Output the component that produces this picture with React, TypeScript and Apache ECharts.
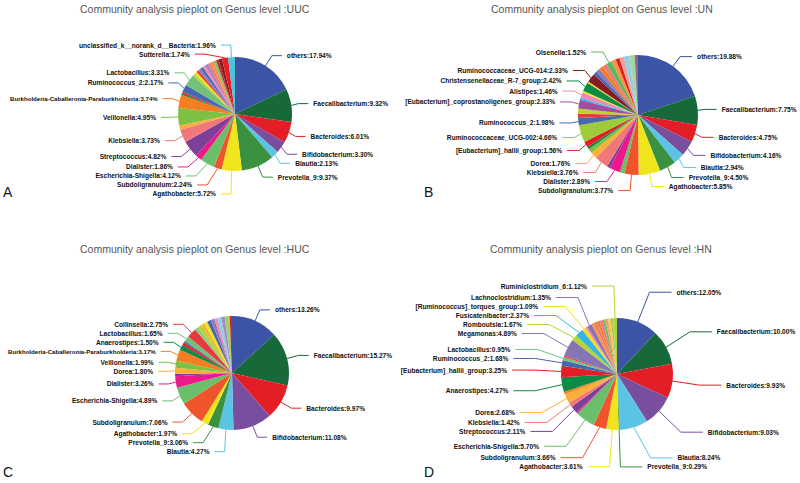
import React, { useEffect, useRef } from 'react';
import * as echarts from 'echarts';

const FONT = 'Arial, "Liberation Sans", Helvetica, sans-serif';

// palette
const BLUE = '#3B54A5', DGREEN = '#17693A', RED = '#E41E26', PURPLE = '#7A4E9F', LBLUE = '#5BC4E4';
const GREEN = '#3A9140', YELLOW = '#F0E51C', OREDS = '#F0542A', LGREEN = '#6BBE6A', MAGENTA = '#EC188C';
const VIOLET = '#7D3F97', SALMON = '#F07878', OYELLOW = '#FAAF3C', YGREEN = '#7CC144', ORANGE = '#F47E20';
const EMERALD = '#0D8B44', BLUE2 = '#4767B2', MINT = '#75C17B', LIME = '#B8D432', PINK = '#F088B8';
const LAVENDER = '#8F79B8', SKY = '#8FCFE8', MAROON = '#8A1B1E', CYAN = '#4FC3DA', RED2 = '#E8393E';
const ORANGE2 = '#F7953E', YELLOW2 = '#F6DE1C', AZURE = '#33B5E5';

// ---- UUC ----
const uucNames = [
  'others', 'Faecalibacterium', 'Bacteroides', 'Bifidobacterium', 'Blautia', 'Prevotella_9', 'Agathobacter',
  'Subdoligranulum', 'Escherichia-Shigella', 'Dialister', 'Streptococcus', 'Klebsiella', '', 'Veillonella',
  'Burkholderia-Caballeronia-Paraburkholderia', '', '', 'Ruminococcus_2', 'Lactobacillus',
  '', '', '', '', '', '', '', '', '', '', '', '', 'Sutterella', 'unclassified_k__norank_d__Bacteria',
];
const uucValues = [
  17.94, 9.32, 6.01, 3.30, 2.13, 9.37, 5.72,
  2.24, 4.12, 1.86, 4.82, 3.73, 1.20, 4.95,
  3.74, 0.50, 0.40, 2.17, 3.31,
  0.70, 0.70, 0.65, 0.75, 0.80, 0.80, 0.85, 0.90, 0.90, 0.72, 0.70, 1.00, 1.74, 1.96,
];
const uucColors = [
  BLUE, DGREEN, RED, PURPLE, LBLUE, GREEN, YELLOW,
  OREDS, LGREEN, MAGENTA, VIOLET, SALMON, OYELLOW, YGREEN,
  ORANGE, EMERALD, RED, BLUE2, MINT,
  LIME, YELLOW2, RED2, LAVENDER, BLUE2, PINK, '#A383BF', SALMON, ORANGE2, MINT, '#C0282D', MAROON, RED, CYAN,
];

// ---- UN ----
const unNames = [
  'others', 'Faecalibacterium', 'Bacteroides', 'Bifidobacterium', 'Blautia', 'Prevotella_9', 'Agathobacter',
  'Subdoligranulum', '', 'Dialister', '', 'Klebsiella', 'Dorea', '', '', '[Eubacterium]_hallii_group',
  'Ruminococcaceae_UCG-002', 'Ruminococcus_2', '', '', '[Eubacterium]_coprostanoligenes_group', '', 'Alistipes',
  '', 'Christensenellaceae_R-7_group', '', 'Ruminococcaceae_UCG-014', '', '', '', '', 'Olsenella',
  '', '', '', '', '', '',
];
const unValues = [
  19.88, 7.75, 4.75, 4.16, 2.94, 4.50, 5.85,
  3.77, 1.30, 2.89, 0.80, 3.76, 1.76, 1.20, 0.70, 1.56,
  4.66, 1.98, 1.10, 1.40, 2.33, 0.60, 1.46,
  0.50, 2.42, 0.40, 2.33, 1.00, 1.10, 1.20, 1.10, 1.52,
  1.20, 1.10, 1.20, 1.40, 1.50, 0.90,
];
const unColors = [
  BLUE, DGREEN, RED, PURPLE, LBLUE, GREEN, YELLOW,
  OREDS, LGREEN, MAGENTA, VIOLET, SALMON, OYELLOW, YGREEN, EMERALD, RED,
  '#9DCB3C', BLUE2, RED2, LIME, '#A24D9E', AZURE, PINK,
  YELLOW, EMERALD, YELLOW2, MAROON, BLUE2, LAVENDER, ORANGE, SALMON, '#5CB85C',
  ORANGE2, RED, '#F4A09A', SKY, '#A5D69B', '#8C6A8C',
];

// ---- HUC ----
const hucNames = [
  'others', 'Faecalibacterium', 'Bacteroides', 'Bifidobacterium', 'Blautia', 'Prevotella_9', 'Agathobacter',
  'Subdoligranulum', 'Escherichia-Shigella', 'Dialister', '', 'Dorea', 'Veillonella',
  'Burkholderia-Caballeronia-Paraburkholderia', 'Anaerostipes', '', '', 'Lactobacillus', 'Collinsella',
  '', '', '', '', '', '', '', '', '', '', '',
];
const hucValues = [
  13.26, 15.27, 9.97, 11.08, 4.27, 3.06, 1.97,
  7.06, 4.89, 3.26, 0.60, 1.80, 1.99,
  3.17, 1.50, 0.80, 0.50, 1.65, 2.75,
  1.00, 1.10, 0.90, 1.00, 1.10, 1.00, 0.90, 1.10, 1.00, 1.40, 0.65,
];
const hucColors = [
  BLUE, DGREEN, RED, PURPLE, LBLUE, GREEN, YELLOW,
  OREDS, LGREEN, MAGENTA, VIOLET, OYELLOW, YGREEN,
  ORANGE, EMERALD, RED, BLUE2, MINT, RED2,
  '#8DCB85', LIME, OYELLOW, YELLOW, BLUE2, LAVENDER, PINK, SKY, '#9F8DC6', '#A5CF6B', RED,
];

// ---- HN ----
const hnNames = [
  'others', 'Faecalibacterium', 'Bacteroides', 'Bifidobacterium', 'Blautia', 'Prevotella_9', 'Agathobacter',
  'Subdoligranulum', 'Escherichia-Shigella', '', 'Streptococcus', 'Klebsiella', 'Dorea', '', 'Anaerostipes',
  '[Eubacterium]_hallii_group', 'Ruminococcus_2', 'Lactobacillus', '', 'Megamonas', 'Romboutsia',
  'Fusicatenibacter', '[Ruminococcus]_torques_group', '', 'Lachnoclostridium',
  '', '', '', '', '', '', '', '', 'Ruminiclostridium_6',
];
const hnValues = [
  12.05, 10.00, 9.93, 9.03, 8.24, 0.29, 3.61,
  3.66, 5.70, 0.40, 2.11, 1.42, 2.68, 0.70, 4.27,
  3.25, 1.68, 0.95, 0.50, 4.89, 1.67,
  2.37, 1.09, 0.60, 1.35,
  0.80, 0.90, 0.80, 0.90, 0.80, 0.80, 0.74, 0.70, 1.12,
];
const hnColors = [
  BLUE, DGREEN, RED, PURPLE, LBLUE, GREEN, YELLOW,
  OREDS, LGREEN, MAGENTA, VIOLET, SALMON, OYELLOW, ORANGE, EMERALD,
  RED, BLUE2, MINT, RED2, '#8575B5', LIME,
  AZURE, YELLOW2, PINK, '#8C6FB5',
  ORANGE2, SALMON, ORANGE, '#E87D7D', LGREEN, '#F4A460', '#F2C94C', '#9CCB6A', '#B5D334',
];

const titles = [
  'Community analysis pieplot on Genus level :UUC',
  'Community analysis pieplot on Genus level :UN',
  'Community analysis pieplot on Genus level :HUC',
  'Community analysis pieplot on Genus level :HN',
];
const panelLetters = ['A', 'B', 'C', 'D'];

// series layout box extends beyond the canvas so long labels are never truncated
const BOX_LEFT = -150;

function buildPie(
  names: string[], values: number[], colors: string[],
  center: [number, number], radius: number, len: number, len2: number,
) {
  return {
    type: 'pie',
    left: BOX_LEFT,
    top: 0,
    width: 1100,
    height: 483,
    center: [center[0] - BOX_LEFT, center[1]],
    radius,
    startAngle: 90,
    clockwise: true,
    avoidLabelOverlap: true,
    silent: true,
    emphasis: { disabled: true },
    data: names.map((n, i) => ({
      name: n,
      value: values[i],
      itemStyle: { color: colors[i] },
      label: n.length > 40 ? { show: true, fontSize: 6.1 } : { show: n !== '' },
      labelLine: { show: n !== '' },
    })),
    label: {
      position: 'outside',
      formatter: (p: any) => `${p.name}:${Number(p.value).toFixed(2)}%`,
      fontSize: 6.6,
      fontWeight: 'bold',
      color: '#111',
      fontFamily: FONT,
      padding: [2.6, 0],
      overflow: 'none',
    },
    labelLine: { length: len, length2: len2, lineStyle: { width: 1 } },
    itemStyle: { borderWidth: 0 },
  };
}

export default function App() {
  const ref = useRef<HTMLDivElement>(null);
  useEffect(() => {
    document.body.style.margin = '0';
    const chart = echarts.init(ref.current!, null, { renderer: 'svg' });
    const titleStyle = { fontSize: 10.5, fontWeight: 'normal', color: '#555', fontFamily: FONT };
    const letterStyle = { fontSize: 14, fontWeight: 'normal', color: '#111', fontFamily: FONT };
    chart.setOption({
      animation: false,
      backgroundColor: '#fff',
      title: [
        { text: titles[0], left: 80, top: 3, padding: 0, textStyle: titleStyle },
        { text: titles[1], left: 491, top: 3, padding: 0, textStyle: titleStyle },
        { text: titles[2], left: 80, top: 243, padding: 0, textStyle: titleStyle },
        { text: titles[3], left: 490, top: 243, padding: 0, textStyle: titleStyle },
        { text: panelLetters[0], left: 3, top: 185, padding: 0, textStyle: letterStyle },
        { text: panelLetters[1], left: 424, top: 185, padding: 0, textStyle: letterStyle },
        { text: panelLetters[2], left: 3, top: 465, padding: 0, textStyle: letterStyle },
        { text: panelLetters[3], left: 424, top: 465, padding: 0, textStyle: letterStyle },
      ],
      series: [
        buildPie(uucNames, uucValues, uucColors, [235, 114], 57, 12, 10),
        buildPie(unNames, unValues, unColors, [638, 115], 60, 12, 12),
        buildPie(hucNames, hucValues, hucColors, [232, 373], 57, 12, 10),
        buildPie(hnNames, hnValues, hnColors, [617, 374], 56, 32, 22),
      ],
    });
    return () => chart.dispose();
  }, []);
  return <div ref={ref} style={{ width: 800, height: 483 }} />;
}
